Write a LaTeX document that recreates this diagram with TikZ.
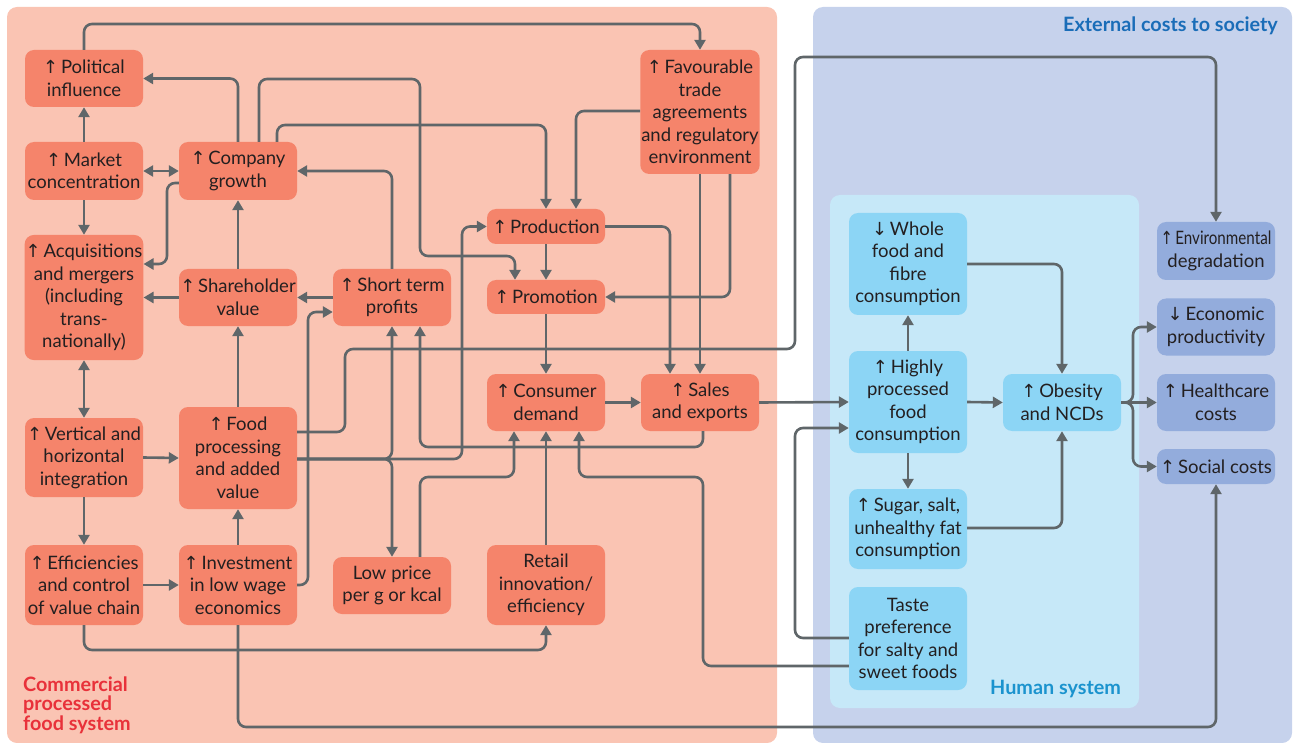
\documentclass[tikz,border=0pt]{standalone}
\usepackage{fontspec}
\setmainfont{Lato}
\newfontfamily\arrowfont{DejaVu Sans}
\usetikzlibrary{arrows.meta}
\definecolor{pinkbg}{HTML}{FAC4B3}
\definecolor{pinknode}{HTML}{F5846B}
\definecolor{bluebg}{HTML}{C6D2EC}
\definecolor{innerbg}{HTML}{C6E8F8}
\definecolor{bluenode}{HTML}{8CD5F5}
\definecolor{extnode}{HTML}{93ACDC}
\definecolor{linecol}{HTML}{5F6669}
\definecolor{txtcol}{HTML}{231F20}
\definecolor{extitle}{HTML}{1A6DB8}
\definecolor{humtitle}{HTML}{1B93CE}
\definecolor{comtitle}{HTML}{E8313A}
\newcommand{\upar}{{\arrowfont\fontsize{18}{22.5}\selectfont ↑}\hspace{0.15em}}
\newcommand{\dnar}{{\arrowfont\fontsize{18}{22.5}\selectfont ↓}\hspace{0.15em}}
\tikzset{
  box/.style={rounded corners=9pt, minimum width=118pt, inner sep=1pt, align=center,
    text=txtcol, font=\fontsize{18.5}{22.5}\selectfont},
  pk/.style={box, fill=pinknode},
  bl/.style={box, fill=bluenode},
  ex/.style={box, fill=extnode},
  conn/.style={draw=linecol, line width=2.6pt, rounded corners=8pt,
    -{Triangle[length=10pt,width=11pt]}},
  conn2/.style={draw=linecol, line width=2.6pt,
    {Triangle[length=10pt,width=11pt]}-{Triangle[length=10pt,width=11pt]}},
  title/.style={font=\fontsize{19.8}{19.5}\selectfont\bfseries, inner sep=0pt}
}
\begin{document}
\begin{tikzpicture}[x=1pt,y=-1pt]
\useasboundingbox (0,0) rectangle (1293,743);
% panels
\fill[pinkbg, rounded corners=10pt] (7,7) rectangle (777,743);
\fill[bluebg, rounded corners=10pt] (813,7) rectangle (1292,743);
\fill[innerbg, rounded corners=10pt] (830,195) rectangle (1139,708);

% titles
\node[title, text=extitle, anchor=base east] (tex) at (1278,32) {External costs to society};
\node[title, text=humtitle, anchor=base west] (thum) at (990,694) {Human system};
\node[title, text=comtitle, anchor=north west, align=left] (tcom) at (23,676.5) {Commercial\\processed\\food system};

% commercial nodes
\node[pk, minimum height=57pt] (pol) at (84,78.5) {\upar Political\\influence};
\node[pk, minimum height=58pt] (mkt) at (84,171) {\upar Market\\concentration};
\node[pk, minimum height=58pt] (cg) at (238,171) {\upar Company\\growth};
\node[pk, minimum height=125pt] (acq) at (84,297.5) {\upar Acquisitions\\and mergers\\(including\\trans-\\nationally)};
\node[pk, minimum height=57pt] (sh) at (238,297.5) {\upar Shareholder\\value};
\node[pk, minimum height=57pt] (stp) at (392,297.5) {\upar Short term\\profits};
\node[pk, minimum height=79pt] (vh) at (84,457.5) {\upar Vertical and\\horizontal\\integration};
\node[pk, minimum height=102pt] (fp) at (238,458) {\upar Food\\processing\\and added\\value};
\node[pk, minimum height=80pt] (eff) at (84,585) {\upar Efficiencies\\and control\\of value chain};
\node[pk, minimum height=80pt] (inv) at (238,585) {\upar Investment\\in low wage\\economics};
\node[pk, minimum height=57pt] (lp) at (392,585.5) {Low price\\per g or kcal};
\node[pk, minimum height=80pt] (ret) at (546,585) {Retail\\innovation/\\efficiency};
\node[pk, minimum height=35pt] (prod) at (546,226.5) {\upar Production};
\node[pk, minimum height=34pt] (prom) at (546,297) {\upar Promotion};
\node[pk, minimum height=57pt] (cd) at (546,402.5) {\upar Consumer\\demand};
\node[pk, minimum height=57pt] (sales) at (700,402.5) {\upar Sales\\and exports};
\node[pk, minimum height=124pt] (fav) at (700,112) {\upar Favourable\\trade\\agreements\\and regulatory\\environment};

% human system nodes
\node[bl, minimum height=102pt] (whole) at (908,264) {\dnar Whole\\food and\\fibre\\consumption};
\node[bl, minimum height=102pt] (hp) at (908,402) {\upar Highly\\processed\\food\\consumption};
\node[bl, minimum height=57pt] (ob) at (1062,402.5) {\upar Obesity\\and NCDs};
\node[bl, minimum height=80pt] (sug) at (908,529) {\upar Sugar, salt,\\unhealthy fat\\consumption};
\node[bl, minimum height=103pt] (taste) at (908,638.5) {Taste\\preference\\for salty and\\sweet foods};

% external nodes
\node[ex, minimum height=58pt] (env) at (1216,251) {\scalebox{0.82}[1]{\upar Environmental}\\degradation};
\node[ex, minimum height=57pt] (eco) at (1216,327) {\dnar Economic\\productivity};
\node[ex, minimum height=57pt] (hc) at (1216,402.5) {\upar Healthcare\\costs};
\node[ex, minimum height=35pt] (soc) at (1216,466.5) {\upar Social costs};

% connectors
\draw[conn] (pol.north) -- (84,24) -| (fav.north);
\draw[conn] (cg.north) |- (pol.east);
\draw[conn] (mkt.north) -- (pol.south);
\draw[conn2] (mkt.east) -- (cg.west);
\draw[conn] (mkt.south) -- (acq.north);
\draw[conn] (cg.west |- 0,183) -- (167,183) -- (167,264) -- (acq.east |- 0,264);
\draw[conn] (cg.north -| 259,0) -- (259,79) -- (420,79) -- (420,256) -- (515,256) -- (prom.north -| 515,0);
\draw[conn] (cg.north -| 277,0) -- (277,125) -| (prod.north);
\draw[conn] (fav.west |- 0,111) -- (576,111) -- (prod.north -| 576,0);
\draw[conn] (fav.south) -- (sales.north);
\draw[conn] (fav.south -| 730,0) -- (730,297) -- (prom.east);
\draw[conn] (prod.east) -- (670,226.5) -- (sales.north -| 670,0);
\draw[conn] (prod.south) -- (prom.north);
\draw[conn] (prom.south) -- (cd.north);
\draw[conn] (cd.east) -- (sales.west);
\draw[conn] (sales.east) -- (hp.west);
\draw[conn] (sales.south -| 703,0) -- (703,447) -- (420,447) -- (stp.south -| 420,0);
\draw[conn] (fp.east |- 0,432) -- (345,432) -- (345,349) -- (795,349) -- (795,57) -- (1216,57) -- (env.north);
\draw[conn] (fp.east |- 0,459) -- (462,459) -- (462,226.5) -- (prod.west);
\draw[conn] (fp.east |- 0,459) -- (392,459) -- (lp.north);
\draw[conn] (fp.east |- 0,459) -- (392,459) -- (stp.south);
\draw[conn] (stp.north) |- (cg.east);
\draw[conn] (stp.west) -- (sh.east);
\draw[conn] (inv.east) -- (308,585) -- (308,312) -- (stp.west |- 0,312);
\draw[conn] (sh.west) -- (acq.east);
\draw[conn] (sh.north) -- (cg.south);
\draw[conn] (fp.north) -- (sh.south);
\draw[conn2] (acq.south) -- (vh.north);
\draw[conn] (vh.east) -- (fp.west);
\draw[conn] (vh.south) -- (eff.north);
\draw[conn] (eff.east) -- (inv.west);
\draw[conn] (inv.north) -- (fp.south);
\draw[conn] (eff.south) -- (84,650) -| (ret.south);
\draw[conn] (inv.south) -- (238,727) -| (soc.south);
\draw[conn] (lp.north -| 420,0) -- (420,477) -- (514,477) -- (cd.south -| 514,0);
\draw[conn] (ret.north) -- (cd.south);
\draw[conn] (taste.west |- 0,666) -- (703,666) -- (703,477) -- (579,477) -- (cd.south -| 579,0);
\draw[conn] (taste.west |- 0,638) -- (795,638) -- (795,428) -- (hp.west |- 0,428);
\draw[conn] (hp.north) -- (whole.south);
\draw[conn] (hp.east) -- (ob.west);
\draw[conn] (hp.south) -- (sug.north);
\draw[conn] (whole.east) -| (ob.north);
\draw[conn] (sug.east |- 0,528) -| (ob.south);
\draw[conn] (ob.east) -- (1133,402.5) -- (1133,327) -- (eco.west);
\draw[conn] (ob.east) -- (hc.west);
\draw[conn] (ob.east) -- (1133,402.5) -- (1133,466.5) -- (soc.west);
\end{tikzpicture}
\end{document}
